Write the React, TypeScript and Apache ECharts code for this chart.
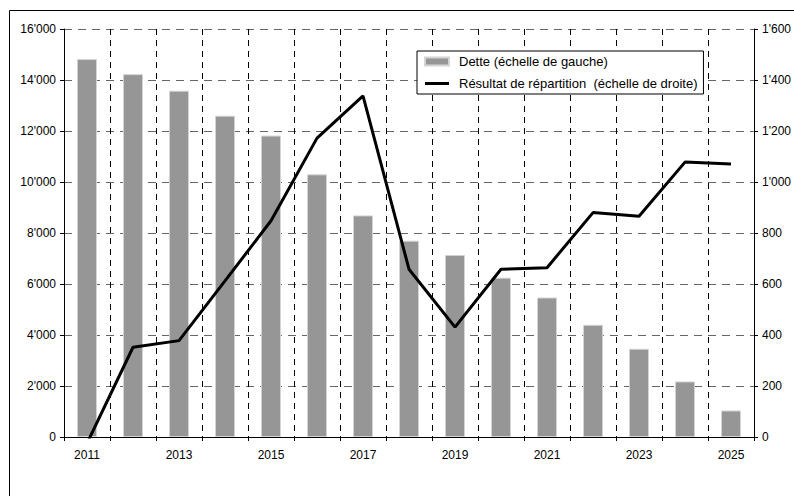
import React, { useEffect, useRef } from "react";
import * as echarts from "echarts";

const years = ["2011","2012","2013","2014","2015","2016","2017","2018","2019","2020","2021","2022","2023","2024","2025"];
const dette = [14820, 14230, 13580, 12600, 11820, 10300, 8690, 7700, 7140, 6250, 5470, 4400, 3460, 2180, 1040];
const resultat = [-25, 352, 378, 612, 848, 1172, 1338, 658, 431, 658, 664, 880, 866, 1078, 1071];
const leftTicks = { min: 0, max: 16000, interval: 2000 };
const rightTicks = { min: 0, max: 1600, interval: 200 };
const serieNames = ["Dette (échelle de gauche)", "Résultat de répartition  (échelle de droite)"];

const fmt = (v: number) => String(v).replace(/\B(?=(\d{3})+(?!\d))/g, "'");

export default function App() {
  const ref = useRef<HTMLDivElement>(null);
  useEffect(() => {
    if (!ref.current) return;
    const chart = echarts.init(ref.current, null, { renderer: "svg" });
    const font = "'Liberation Sans', Arial, sans-serif";
    chart.setOption({
      animation: false,
      backgroundColor: "#ffffff",
      textStyle: { fontFamily: font },
      grid: { left: 64, right: 39, top: 29, bottom: 59, containLabel: false },
      graphic: [
        {
          type: "rect",
          shape: { x: 9.5, y: 10.5, width: 820, height: 520 },
          style: { fill: "none", stroke: "#000", lineWidth: 1 },
          z: 0,
        },
      ],
      legend: {
        orient: "vertical",
        left: 417,
        top: 51,
        backgroundColor: "#fff",
        borderColor: "#000",
        borderWidth: 1,
        borderRadius: 0,
        padding: [4, 6, 4, 7],
        itemGap: 9,
        itemWidth: 24,
        itemHeight: 8,
        textStyle: { fontSize: 13, color: "#000", fontFamily: font, padding: [0, 0, 0, 5] },
        data: [
          { name: serieNames[0], icon: "rect" },
          { name: serieNames[1], icon: "path://M0,0 L24,0 L24,3 L0,3 Z" },
        ],
      },
      xAxis: {
        type: "category",
        data: years,
        boundaryGap: true,
        axisLine: { lineStyle: { color: "#000", width: 1 } },
        axisTick: { show: true, interval: 0, length: 4, lineStyle: { color: "#000" } },
        axisLabel: { interval: 1, color: "#000", fontSize: 12, margin: 12, fontFamily: font },
        splitLine: { show: true, interval: 0, lineStyle: { color: "#000", type: [6, 5], width: 1 } },
      },
      yAxis: [
        {
          type: "value",
          ...leftTicks,
          position: "left",
          axisLine: { show: true, lineStyle: { color: "#000" } },
          axisTick: { show: true, length: 4, lineStyle: { color: "#000" } },
          axisLabel: { color: "#000", fontSize: 12, margin: 8, formatter: fmt, fontFamily: font },
          splitLine: { show: true, lineStyle: { color: "#666", type: [8, 6], width: 1 } },
        },
        {
          type: "value",
          ...rightTicks,
          position: "right",
          axisLine: { show: true, lineStyle: { color: "#000" } },
          axisTick: { show: true, length: 4, lineStyle: { color: "#000" } },
          axisLabel: { color: "#000", fontSize: 12, margin: 8, formatter: fmt, fontFamily: font },
          splitLine: { show: false },
        },
      ],
      series: [
        {
          name: serieNames[0],
          type: "bar",
          yAxisIndex: 0,
          data: dette,
          barWidth: 20,
          itemStyle: { color: "#969696", borderColor: "#d4d4d4", borderWidth: 1 },
          z: 2,
        },
        {
          name: serieNames[1],
          type: "line",
          yAxisIndex: 1,
          data: resultat,
          symbol: "none",
          symbolKeepAspect: true,
          clip: true,
          lineStyle: { color: "#000", width: 3 },
          itemStyle: { color: "#000" },
          z: 3,
        },
      ],
    });
    return () => chart.dispose();
  }, []);
  return (
    <div
      ref={ref}
      style={{ position: "fixed", left: 0, top: 0, width: 794, height: 496, background: "#fff" }}
    />
  );
}
